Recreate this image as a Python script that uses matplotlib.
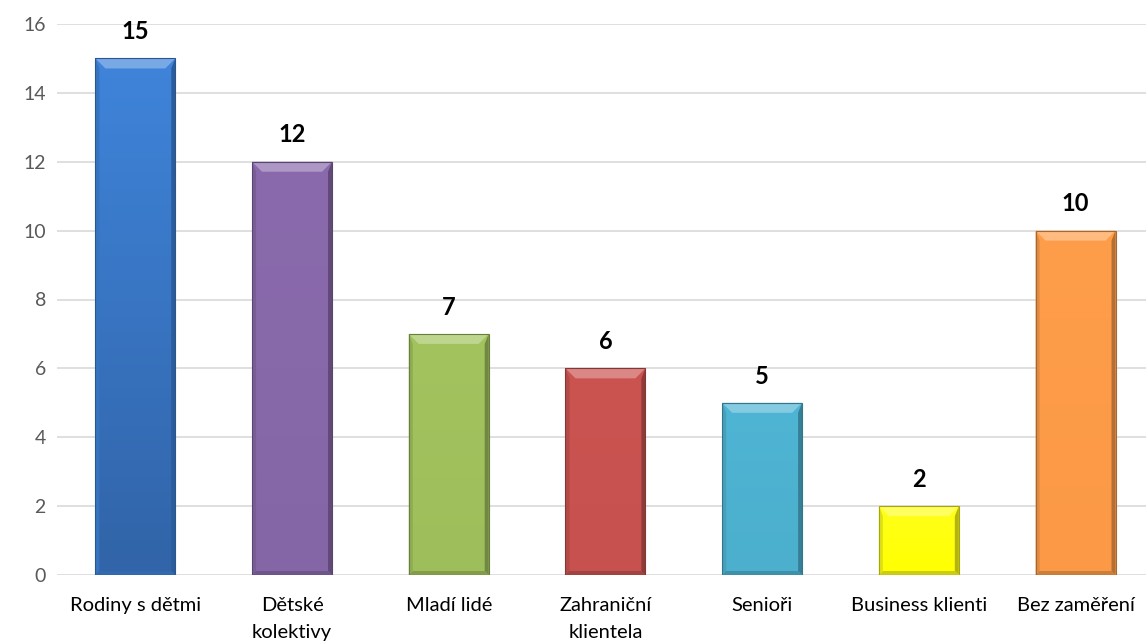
import matplotlib

matplotlib.use("Agg", force=True)
import numpy as np
from matplotlib import pyplot as plt
from matplotlib.colors import to_rgb
from matplotlib.patches import Polygon

categories = ["Rodiny s dětmi", "Dětské\nkolektivy", "Mladí lidé", "Zahraniční\nklientela",
              "Senioři", "Business klienti", "Bez zaměření"]
values = [15, 12, 7, 6, 5, 2, 10]
top_colors = ["#3F84DA", "#8A6AAC", "#A2C35E", "#CB5451", "#4FB5D4", "#FFFF1A", "#FF9E4A"]
bottom_colors = ["#3164A8", "#8466A6", "#9DBE5A", "#C6514E", "#4BAFCD", "#FFFF00", "#FB9946"]
y_ticks = [0, 2, 4, 6, 8, 10, 12, 14, 16]

plt.rcParams["font.family"] = ["Lato", "DejaVu Sans"]

fig = plt.figure(figsize=(11.46, 6.44), dpi=100)
ax = fig.add_axes([57 / 1146, 69 / 644, 1 - 57 / 1146, 551 / 644])

x = np.arange(len(categories))
bar_w = 0.51


def mix(c, other, t):
    a = np.array(to_rgb(c))
    b = np.array(to_rgb(other))
    return tuple(a * (1 - t) + b * t)


bars = ax.bar(x, values, width=bar_w, color=bottom_colors, zorder=2, linewidth=0)
ax.set_xlim(-0.5, -0.5 + (1146 - 57) / 156.7)
ax.set_ylim(0, 16)

# vertical gradient inside each bar
for bar, ctop, cbot in zip(bars, top_colors, bottom_colors):
    grad = np.linspace(0, 1, 64)[:, None, None]
    rgb = np.array(to_rgb(cbot)) * (1 - grad) + np.array(to_rgb(ctop)) * grad
    x0, y0 = bar.get_x(), bar.get_y()
    x1, y1 = x0 + bar.get_width(), y0 + bar.get_height()
    im = ax.imshow(rgb, extent=(x0, x1, y0, y1), origin="lower", aspect="auto",
                   interpolation="bilinear", zorder=2.1)
    im.set_clip_path(bar)

# bevel edges, sized in pixels
px_x = 1 / 156.7
px_y = 16 / 551
for bar, ctop in zip(bars, top_colors):
    x0, y0 = bar.get_x(), bar.get_y()
    x1, y1 = x0 + bar.get_width(), y0 + bar.get_height()
    dx = 4 * px_x
    dyt = 10 * px_y
    dyb = 4 * px_y
    if bar.get_height() < (dyt + dyb):
        continue
    faces = [
        ([(x0, y1), (x1, y1), (x1 - 2.5 * dx, y1 - dyt), (x0 + 2.5 * dx, y1 - dyt)], mix(ctop, "white", 0.3)),
        ([(x0, y0), (x0, y1), (x0 + dx, y1 - dyt), (x0 + dx, y0 + dyb)], mix(ctop, "black", 0.12)),
        ([(x1, y0), (x1, y1), (x1 - dx, y1 - dyt), (x1 - dx, y0 + dyb)], mix(ctop, "black", 0.3)),
        ([(x0, y0), (x1, y0), (x1 - dx, y0 + dyb), (x0 + dx, y0 + dyb)], mix(ctop, "black", 0.2)),
    ]
    for pts, fc in faces:
        ax.add_patch(Polygon(pts, closed=True, facecolor=fc, edgecolor="none", zorder=2.2))
    ax.add_patch(Polygon([(x0, y0), (x0, y1), (x1, y1), (x1, y0)], closed=True, fill=False,
                         edgecolor=mix(ctop, "black", 0.35), linewidth=0.8, zorder=2.3))

for xi, v in zip(x, values):
    ax.annotate(str(v), (xi, v), xytext=(0, 11), textcoords="offset points",
                ha="center", va="bottom", fontsize=17, fontweight="bold", color="black")

ax.set_xticks(x)
ax.set_xticklabels(categories, fontsize=14.5, color="black", linespacing=1.7)
ax.set_yticks(y_ticks)
ax.set_yticklabels([str(t) for t in y_ticks], fontsize=14, color="#595959")
ax.tick_params(axis="both", length=0)
ax.tick_params(axis="x", pad=16)
ax.tick_params(axis="y", pad=8)
ax.grid(axis="y", color="#D9D9D9", linewidth=1.2, zorder=0)
ax.set_axisbelow(True)
for s in ax.spines.values():
    s.set_visible(False)

fig.savefig("out.png", dpi=100)
